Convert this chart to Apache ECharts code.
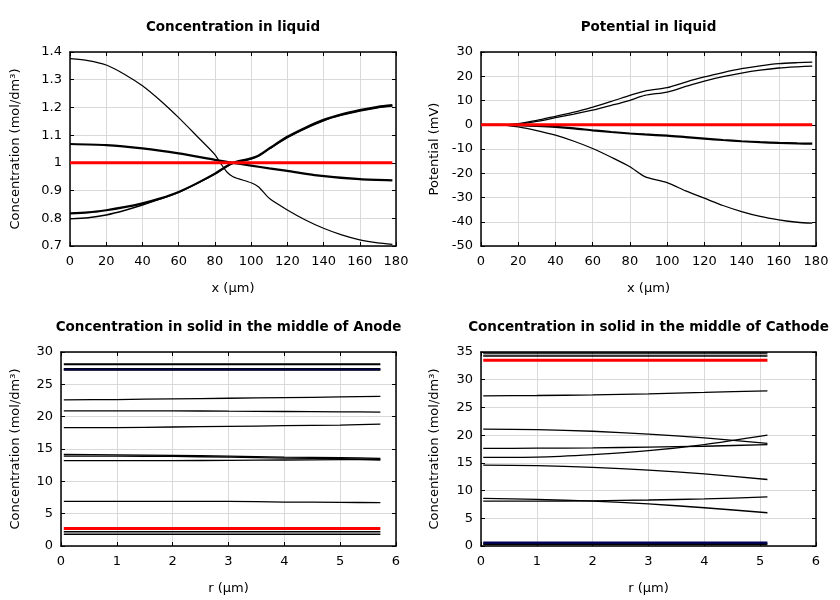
<!DOCTYPE html>
<html><head><meta charset="utf-8">
<script src="https://cdn.jsdelivr.net/npm/echarts@6/dist/echarts.min.js"></script>
<style>html,body{margin:0;padding:0;background:#fff}#c{width:840px;height:600px}</style>
</head><body><div id="c"></div>
<script>
// ---- Concentration in liquid ----
const liqA_x = [0,10,20,30,40,50,60,70,80,83,86.5,90,100,104,110,120,130,140,150,160,170,178];
const liqA_y = [1.376,1.369,1.353,1.320,1.278,1.224,1.163,1.097,1.030,1.000,0.968,0.950,0.928,0.914,0.872,0.830,0.794,0.764,0.740,0.722,0.711,0.706];
const liqB_x = [0,20,40,60,80,90,100,110,120,135,160,178];
const liqB_y = [1.068,1.064,1.052,1.034,1.011,1.000,0.990,0.980,0.971,0.956,0.941,0.937];
const liqC_x = [0,10,20,30,40,50,60,70,80,85,90,100,104,110,120,130,140,150,160,170,178];
const liqC_y = [0.818,0.821,0.829,0.840,0.854,0.872,0.895,0.926,0.961,0.982,1.000,1.016,1.026,1.052,1.094,1.127,1.155,1.175,1.190,1.202,1.208];
const liqD_y = [0.798,0.802,0.812,0.828,0.848,0.870,0.894,0.925,0.959,0.980,0.998,1.014,1.024,1.050,1.091,1.124,1.152,1.172,1.187,1.199,1.205];
const liqRed_x = [0,178];
const liqRed_y = [1,1];

// ---- Potential in liquid ----
const potX = [0,10,20,30,40,50,60,70,80,88,100,110,120,130,140,150,160,170,178];
const pot1 = [0,0,0.5,1.8,3.5,5.2,7.3,9.6,12.1,13.9,15.3,17.6,19.7,21.5,23.1,24.3,25.2,25.6,25.8];
const pot2 = [0,0,0.3,1.4,2.9,4.4,6.0,8.0,10.1,12.1,13.5,15.8,18.0,19.8,21.3,22.5,23.4,23.9,24.2];
const pot3 = [0,0,-0.2,-0.5,-0.9,-1.5,-2.3,-3.0,-3.6,-4.0,-4.5,-5.1,-5.7,-6.3,-6.8,-7.2,-7.5,-7.7,-7.8];
const pot4 = [0,0,-0.9,-2.4,-4.3,-6.8,-9.8,-13.4,-17.3,-21.4,-23.9,-27.3,-30.3,-33.3,-35.8,-37.8,-39.2,-40.2,-40.6];
const potRed = [0,0,0,0,0,0,0,0,0,0,0,0,0,0,0,0,0,0,0];

// ---- Anode solid ----
const anR = [0.05,1,2,3,4,5,5.72];
const an1 = [28.1,28.1,28.1,28.1,28.1,28.1,28.1];
const an2 = [27.3,27.3,27.3,27.3,27.3,27.3,27.3];
const an3 = [22.6,22.65,22.75,22.85,22.95,23.05,23.15];
const an4 = [20.9,20.9,20.9,20.85,20.8,20.75,20.7];
const an5 = [18.3,18.3,18.4,18.5,18.6,18.7,18.85];
const an6 = [14.15,14.1,14.0,13.9,13.75,13.65,13.55];
const an7 = [13.9,13.9,13.85,13.75,13.6,13.5,13.3];
const an8 = [13.2,13.2,13.2,13.25,13.3,13.35,13.4];
const an9 = [6.9,6.9,6.9,6.9,6.8,6.75,6.7];
const anRed = [2.7,2.7,2.7,2.7,2.7,2.7,2.7];
const an10 = [2.2,2.2,2.2,2.2,2.2,2.2,2.2];
const an11 = [1.8,1.8,1.8,1.8,1.8,1.8,1.8];

// ---- Cathode solid ----
const caR = [0.04,1,2,3,4,5.13];
const ca1 = [34.8,34.8,34.8,34.8,34.8,34.8];
const caGray = [34.55,34.55,34.55,34.55,34.55,34.55];
const ca2 = [34.3,34.3,34.3,34.3,34.3,34.3];
const caRed = [33.5,33.5,33.5,33.5,33.5,33.5];
const ca3 = [27.1,27.15,27.25,27.45,27.7,28.0];
const ca4 = [21.1,21.0,20.7,20.2,19.5,18.5];
const ca5 = [17.6,17.65,17.7,17.85,18.0,18.3];
const ca6 = [16.0,16.05,16.5,17.2,18.3,20.0];
const ca7 = [14.6,14.5,14.2,13.7,13.0,12.0];
const ca8 = [8.6,8.4,8.1,7.6,6.9,6.0];
const ca9 = [8.1,8.1,8.15,8.3,8.5,8.85];
const caBlue = [0.6,0.6,0.6,0.6,0.6,0.6];
const ca10 = [0.3,0.3,0.3,0.3,0.3,0.3];

// ---- axes ----
const liqXTicks = {min:0,max:180,interval:20};
const liqYTicks = {min:0.7,max:1.4,interval:0.1};
const potYTicks = {min:-50,max:30,interval:10};
const anYTicks = {min:0,max:30,interval:5};
const caYTicks = {min:0,max:35,interval:5};
const rTicks = {min:0,max:6,interval:1};

const titles = ['Concentration in liquid','Potential in liquid','Concentration in solid in the middle of Anode','Concentration in solid in the middle of Cathode'];
const xNames = ['x (µm)','x (µm)','r (µm)','r (µm)'];
const yNames = ['Concentration (mol/dm³)','Potential (mV)','Concentration (mol/dm³)','Concentration (mol/dm³)'];

const FONT = 'DejaVu Sans';
const grids = [
  {left:70, top:52, width:326, height:194},
  {left:481, top:52, width:335, height:194},
  {left:61, top:352, width:335, height:194},
  {left:481, top:352, width:335, height:194}
];
const xT = [liqXTicks, liqXTicks, rTicks, rTicks];
const yT = [liqYTicks, potYTicks, anYTicks, caYTicks];
const yNameGap = [48, 40, 39, 40];

const xAxis = [], yAxis = [], title = [];
grids.forEach((g,i)=>{
  title.push({text:titles[i], left:g.left+g.width/2, top:g.top-32, textAlign:'center', padding:0,
    textStyle:{fontFamily:FONT,fontSize:13.5,fontWeight:'bold',color:'#000'}});
  const common = {type:'value', gridIndex:i, axisLine:{show:true,onZero:false,lineStyle:{color:'#000',width:1.5}},
    axisTick:{show:true,inside:true,length:4,lineStyle:{color:'#000',width:1}}};
  xAxis.push(Object.assign({}, common, xT[i], {position:'bottom', name:xNames[i], nameLocation:'middle', nameGap:36,
    nameTextStyle:{fontFamily:FONT,fontSize:13,color:'#000'},
    axisLabel:{fontFamily:FONT,fontSize:13,color:'#000',margin:9,formatter:v=>String(Math.round(v*10)/10)},
    splitLine:{show:true,lineStyle:{color:'#d9d9d9',width:1}}}));
  xAxis.push(Object.assign({}, common, xT[i], {position:'top', axisLabel:{show:false}, splitLine:{show:false}}));
  yAxis.push(Object.assign({}, common, yT[i], {position:'left', name:yNames[i], nameLocation:'middle', nameGap:yNameGap[i],
    nameTextStyle:{fontFamily:FONT,fontSize:13,color:'#000'},
    axisLabel:{fontFamily:FONT,fontSize:13,color:'#000',margin:8,formatter:v=>String(Math.round(v*10)/10)},
    splitLine:{show:true,lineStyle:{color:'#d9d9d9',width:1}}}));
  yAxis.push(Object.assign({}, common, yT[i], {position:'right', axisLabel:{show:false}, splitLine:{show:false}}));
});

const zip = (xs,ys)=>xs.map((x,k)=>[x,ys[k]]);
const series = [];
function line(gi, xs, ys, color, width, smooth){
  series.push({type:'line', xAxisIndex:gi*2, yAxisIndex:gi*2, data:zip(xs,ys), showSymbol:false, symbol:'none',
    smooth: smooth===undefined?0.25:smooth, lineStyle:{color:color,width:width}, silent:true, animation:false});
}
// liquid
line(0, liqA_x, liqA_y, '#000', 1.2);
line(0, liqB_x, liqB_y, '#000', 2.2);
line(0, liqC_x, liqC_y, '#000', 2.2);
line(0, liqC_x, liqD_y, '#000', 1.4);
line(0, liqRed_x, liqRed_y, '#ff0000', 3, false);
// potential
line(1, potX, pot1, '#000', 1.3);
line(1, potX, pot2, '#000', 1.3);
line(1, potX, pot3, '#000', 2.2);
line(1, potX, pot4, '#000', 1.3);
line(1, potX, potRed, '#ff0000', 3, false);
// anode
[an3,an4,an5,an6,an7,an8,an9].forEach(a=>line(2, anR, a, '#000', 1.3));
line(2, anR, an1, '#000', 2, false);
line(2, anR, an2, '#000', 2.8, false);
line(2, anR, an2, '#000050', 1.5, false);
line(2, anR, an10, '#000', 1.5, false);
line(2, anR, an11, '#000', 1.5, false);
line(2, anR, anRed, '#ff0000', 3, false);
// cathode
line(3, caR, caGray, '#aaaaaa', 2, false);
line(3, caR, ca1, '#000', 1.5, false);
line(3, caR, ca2, '#000', 1.5, false);
line(3, caR, caRed, '#ff0000', 3, false);
[ca3,ca4,ca5,ca6,ca7,ca8,ca9].forEach(a=>line(3, caR, a, '#000', 1.3));
line(3, caR, ca10, '#000', 2, false);
line(3, caR, caBlue, '#000050', 2.5, false);

const chart = echarts.init(document.getElementById('c'), null, {renderer:'canvas'});
chart.setOption({backgroundColor:'#fff', animation:false, title, grid:grids, xAxis, yAxis, series});
</script></body></html>
